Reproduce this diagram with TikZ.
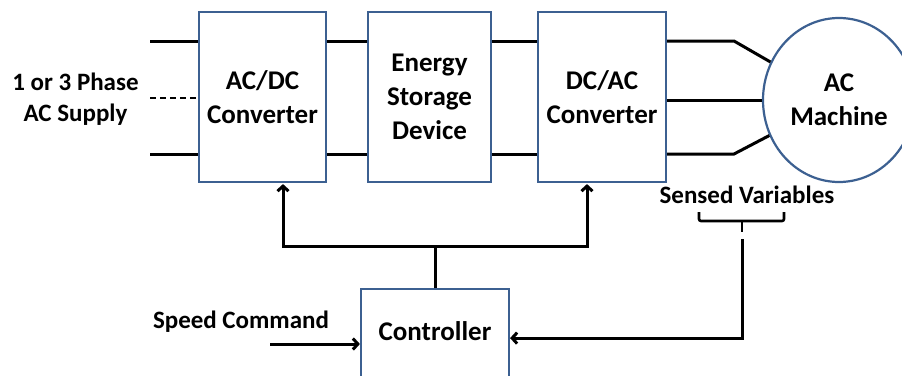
\documentclass[tikz,border=0pt]{standalone}
\usepackage{fontspec}
\setmainfont{Carlito}
\usetikzlibrary{arrows.meta,shapes.geometric}
\definecolor{boxblue}{RGB}{60,96,145}
\begin{document}
\begin{tikzpicture}[x=1pt,y=-1pt,
  boxtext/.style={font=\bfseries\fontsize{27}{34}\selectfont},
  blk/.style={draw=boxblue, line width=2.2pt, fill=white, rectangle,
    minimum width=#1, minimum height=170pt, inner sep=0pt, align=center,
    boxtext},
  lbl/.style={font=\bfseries\fontsize{25}{31}\selectfont, inner sep=0pt},
  wire/.style={line width=3pt},
  arr/.style={wire, -{Straight Barb[length=5pt,width=11pt]}}]
  \useasboundingbox (0,0) rectangle (902,375);
  \fill[white] (0,0) rectangle (902,375);

  % power stages
  \node[blk=127pt] (acdc) at (262.5,97) {AC/DC\\Converter};
  \node[blk=123pt] (ess) at (429.5,97) {Energy\\Storage\\Device};
  \node[blk=128pt] (dcac) at (602,97) {DC/AC\\Converter};
  \node[ellipse, draw=boxblue, line width=2.2pt, minimum width=152pt,
    minimum height=164pt, inner sep=0pt, align=center, boxtext]
    (mach) at (839,100) {AC\\Machine};
  \node[draw=boxblue, line width=2.2pt, minimum width=148pt, minimum height=92pt,
    anchor=north, text height=18pt, text depth=8pt, inner sep=0pt, boxtext]
    (ctrl) at (435,288) {Controller};

  % labels
  \node[lbl, align=center] (supply) at (75.5,99) {1 or 3 Phase\\AC Supply};
  \node[lbl, anchor=base] (speed) at (241,328) {Speed Command};
  \node[lbl, anchor=base] (sensed) at (747,203) {Sensed Variables};

  % supply lines
  \coordinate (inT) at (150,41);
  \coordinate (inM) at (150,98);
  \coordinate (inB) at (150,154);
  \draw[wire] (inT) -- (inT -| acdc.west);
  \draw[wire, line width=2.6pt, dash pattern=on 6pt off 4pt] (inM) -- (inM -| acdc.west);
  \draw[wire] (inB) -- (inB -| acdc.west);

  % DC links
  \draw[wire] (inT -| acdc.east) -- (inT -| ess.west);
  \draw[wire] (inB -| acdc.east) -- (inB -| ess.west);
  \draw[wire] (inT -| ess.east) -- (inT -| dcac.west);
  \draw[wire] (inB -| ess.east) -- (inB -| dcac.west);

  % machine phases
  \coordinate (bT) at (734,41);
  \coordinate (bB) at (734,154);
  \draw[wire] (bT -| dcac.east) -- (bT) -- (mach.151);
  \draw[wire] (dcac.east |- mach.west) -- (mach.west);
  \draw[wire] (bB -| dcac.east) -- (bB) -- (mach.207);

  % control signals
  \coordinate (bus) at (432,246);
  \draw[wire] (ctrl.north) -- (ctrl.north |- bus);
  \draw[arr] (ctrl.north |- bus) -| ([xshift=20.5pt,yshift=-1pt]acdc.south);
  \draw[arr] (ctrl.north |- bus) -| ([xshift=-15pt,yshift=-1pt]dcac.south);

  \coordinate (sc) at (270,344);
  \draw[arr] (sc) -- (sc -| ctrl.west);

  % sensed variables feedback
  \draw[wire, line width=2.6pt, rounded corners=2pt]
    (699,212) -- (699,221) -- (784,221) -- (784,212);
  \draw[wire, line width=2.6pt] (742,221) -- (742,232);
  \coordinate (fb) at (742,239);
  \draw[arr] (fb) |- ([yshift=-3pt]ctrl.east);
\end{tikzpicture}
\end{document}
